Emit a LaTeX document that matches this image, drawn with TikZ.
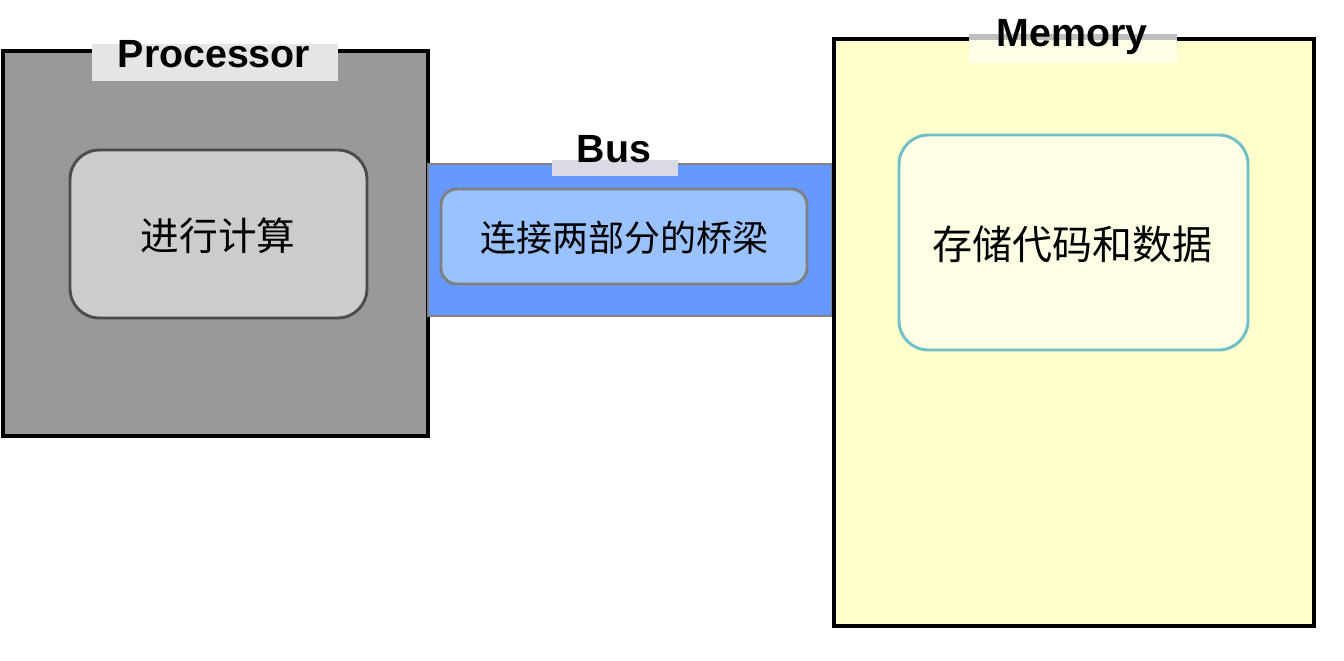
\documentclass[tikz,border=0pt]{standalone}
\usepackage{fontspec}
\setmainfont{Liberation Sans}
\newfontfamily\cjk{Noto Sans CJK SC}
\definecolor{procfill}{HTML}{999999}
\definecolor{procin}{HTML}{CCCCCC}
\definecolor{busfill}{HTML}{6699FF}
\definecolor{busin}{HTML}{99C2FF}
\definecolor{memfill}{HTML}{FFFFCC}
\definecolor{memin}{HTML}{FFFFE6}
\definecolor{memdraw}{HTML}{70BFC8}
\tikzset{
 outer/.style={draw=black,line width=3pt},
 ttl/.style={font=\bfseries\fontsize{29.5}{30}\selectfont},
 inner/.style={rounded corners=22pt,line width=2.2pt},
 ctext/.style={font=\cjk\fontsize{29}{30}\selectfont}
}
\begin{document}
\begin{tikzpicture}[x=0.75pt,y=-0.75pt]
\useasboundingbox (0,0) rectangle (1344,660);
% Processor
\draw[outer,fill=procfill] (3,51) rectangle (428,436);
\fill[black!10] (92,44) rectangle (338,81);
\node[ttl] (pt) at (214,54) {Processor};
\draw[inner,fill=procin,draw=black!70] (70,150) rectangle (367,318);
\node[ctext] (pc) at (218,236) {进行计算};
% Bus
\draw[fill=busfill,draw=gray,line width=1.5pt] (428,164) rectangle (832,316);
\fill[blue!5!white!90!black] (552,160) rectangle (678,176);
\node[ttl] (bt) at (614,149) {Bus};
\draw[inner,rounded corners=12pt,fill=busin,draw=black!50] (441,189) rectangle (807,284);
\node[ctext,font=\cjk\fontsize{27}{30}\selectfont] (bc) at (624,238) {连接两部分的桥梁};
% Memory
\draw[outer,fill=memfill] (834,39) rectangle (1314,626);
\fill[white!90!yellow] (969,34) rectangle (1177,63);
\fill[white!75!black] (969,34) rectangle (1177,40);
\node[ttl] (mt) at (1072,37) {Memory};
\draw[inner,fill=memin,draw=memdraw] (899,135) rectangle (1248,350);
\node[ctext,font=\cjk\fontsize{30}{30}\selectfont] (mc) at (1072,244) {存储代码和数据};
\end{tikzpicture}
\end{document}
